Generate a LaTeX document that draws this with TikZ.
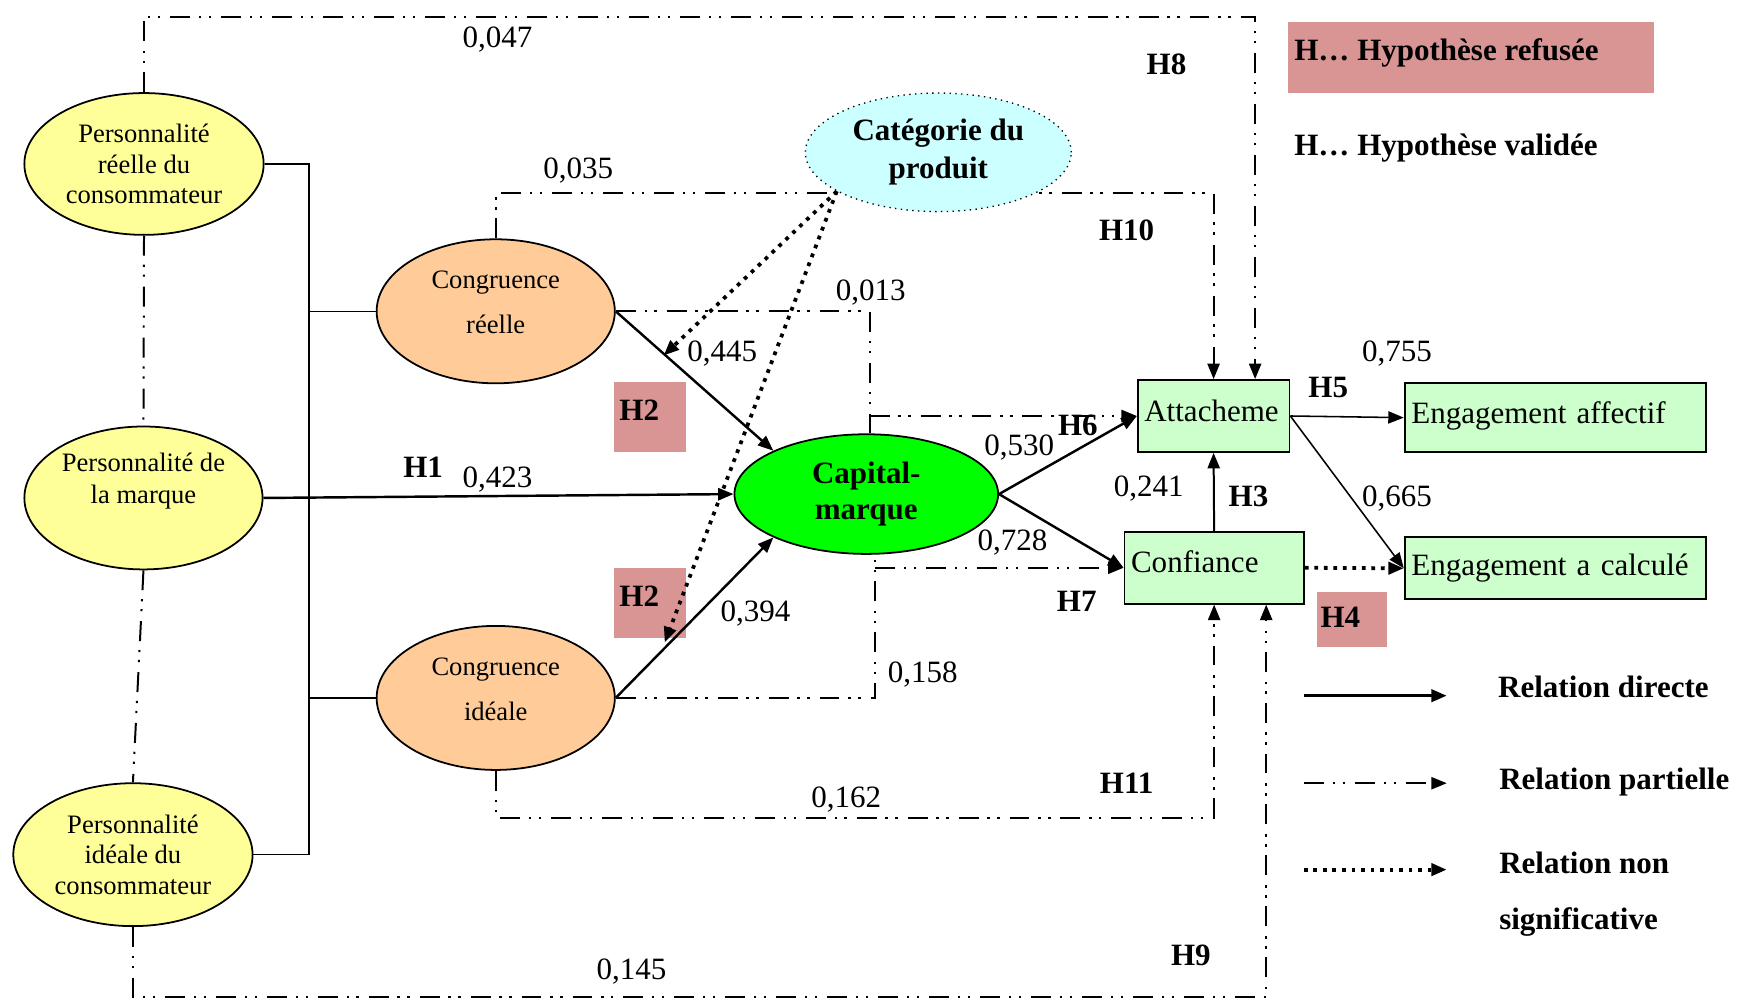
\documentclass[tikz,border=0pt]{standalone}
\usepackage{fontspec}
\setmainfont{Liberation Serif}
\usetikzlibrary{shapes.geometric,arrows.meta,backgrounds}
\definecolor{jaune}{HTML}{FFFF99}
\definecolor{peche}{HTML}{FFCC99}
\definecolor{ciel}{HTML}{CCFFFF}
\definecolor{vertvif}{HTML}{00FF00}
\definecolor{vertpale}{HTML}{CCFFCC}
\definecolor{rose}{HTML}{D99594}
\begin{document}
\begin{tikzpicture}[x=0.5pt,y=-0.5pt,
    every node/.style={font=\fontsize{14}{16.5}\selectfont,inner sep=1pt},
    perso/.style={ellipse,draw,line width=0.8pt,fill=jaune,inner sep=0pt,align=center,
      font=\fontsize{12}{13.75}\selectfont},
    congr/.style={ellipse,draw,line width=0.8pt,fill=peche,inner sep=0pt,
      minimum width=107.5pt,minimum height=65pt},
    boite/.style={draw,fill=vertpale,line width=0.8pt,inner xsep=3pt,inner ysep=0pt,align=left},
    pointe/.style={-{Triangle[length=7pt,width=5.5pt]}},
    fin/.style={line width=0.7pt},
    directe/.style={line width=1.1pt,pointe},
    partielle/.style={line width=0.9pt,dash pattern=on 9pt off 4pt on 1pt off 3.5pt on 1pt off 4.5pt},
    nonsig/.style={line width=1.7pt,dash pattern=on 1.7pt off 2.6pt,pointe},
    coef/.style={yshift=-1pt},
    hyp/.style={font=\bfseries\fontsize{14}{16.5}\selectfont}]
  \useasboundingbox (0,0) rectangle (1568,902);

  \node[perso,minimum width=108pt,minimum height=64pt] (P1) at (130,148)
    {Personnalité\\réelle du\\consommateur};
  \node[perso,minimum width=107.5pt,minimum height=64.5pt] (P2) at (129.5,449.5) {};
  \node[align=center,font=\fontsize{12}{14.5}\selectfont] (P2t) at (129.5,434)
    {Personnalité de\\la marque};
  \node[perso,minimum width=108pt,minimum height=64.5pt] (P3) at (120,771.5)
    {Personnalité\\idéale du\\consommateur};

  \node[congr] (CR) at (447.5,281) {};
  \node[align=center,font=\fontsize{12}{20.5}\selectfont] (CRt) at (447.5,273) {Congruence\\réelle};
  \node[congr] (CI) at (447.5,630) {};
  \node[align=center,font=\fontsize{12}{20.5}\selectfont] (CIt) at (447.5,622) {Congruence\\idéale};

  \node[ellipse,draw,dotted,line width=0.6pt,fill=ciel,inner sep=0pt,minimum width=120pt,
    minimum height=53.5pt,align=center,font=\bfseries\fontsize{14}{17}\selectfont]
    (Cat) at (847,137.5) {Catégorie du\\produit};
  \node[ellipse,draw,line width=0.8pt,fill=vertvif,inner sep=0pt,minimum width=119pt,
    minimum height=54pt,align=center,font=\bfseries\fontsize{14}{16.5}\selectfont]
    (Cap) at (782,446) {Capital-\\marque};

  \node[boite,text width=62.5pt,minimum height=32.5pt,text depth=5pt] (Att) at (1095.5,375.5) {Attacheme};
  \node[boite,text width=75pt,minimum height=32.5pt,text depth=6pt] (Conf) at (1096,512.5) {Confiance};
  \node[boite,text width=130pt,minimum height=31pt,text depth=5pt] (EA) at (1404,377) {Engagement affectif};
  \node[boite,text width=130pt,minimum height=28pt] (EC) at (1404,513) {Engagement a calculé};

  \fill[rose] (554,345) rectangle (619,408);
  \fill[rose] (554,513) rectangle (619,576);
  \fill[rose] (1189,534) rectangle (1252,584);
  \fill[rose] (1163,20) rectangle (1493,84);

  \coordinate (busA) at (279,148);
  \coordinate (busB) at (279,771.5);
  \draw[fin] (P1.east) -- (busA) -- (busB) -- (P3.east);
  \draw[fin] (busA |- CR.west) -- (CR.west);
  \draw[fin] (busA |- CI.west) -- (CI.west);

  \draw[directe] (P2.east) -- (Cap.west);
  \draw[directe] (CR.east) -- (Cap.155);
  \draw[directe] (CI.east) -- (Cap.205);
  \draw[directe] (Cap.east) -- (Att.west);
  \draw[directe] (Cap.east) -- (Conf.west);
  \draw[directe,line width=0.9pt] (Conf.north) -- (Att.south);
  \draw[fin,pointe] (Att.east) -- (EA.west);
  \draw[fin,pointe] (Att.east) -- (EC.west);
  \draw[nonsig] (Conf.east) -- (EC.west);

  \coordinate (cibleA) at (599,321);
  \coordinate (cibleB) at (600,580);
  \draw[nonsig] (Cat.201) -- (cibleA);
  \draw[nonsig] (Cat.201) -- (cibleB);

  \draw[partielle] (P1.south) -- (P2.north);
  \draw[partielle] (P2.south) -- (P3.north);

  \coordinate (h8) at (1133,15);
  \draw[partielle,pointe] (P1.north) |- (h8) -- (h8 |- Att.north);
  \coordinate (h9) at (1143,900);
  \draw[partielle,pointe] (P3.south) |- (h9) -- (h9 |- Conf.south);
  \coordinate (h10) at (1095.5,174);
  \begin{scope}[on background layer]
    \draw[partielle,pointe] (CR.north) |- (h10) -- (Att.north);
  \end{scope}
  \coordinate (h11) at (1096,738);
  \draw[partielle,pointe] (CI.south) |- (h11) -- (Conf.south);

  \coordinate (c13) at (785,281);
  \draw[partielle] (CR.east) -- (c13) -- (c13 |- Cap.north);
  \draw[partielle,pointe] (c13 |- Att.west) -- (Att.west);
  \coordinate (c158) at (790,630);
  \draw[partielle] (CI.east) -- (c158) -- (c158 |- Cap.south);
  \draw[partielle,pointe] (c158 |- Conf.west) -- (Conf.west);

  \node[coef] (k047) at (449,34) {0,047};
  \node[hyp] (kH8) at (1053,58) {H8};
  \node[coef] (k035) at (522,152) {0,035};
  \node[hyp] (kH10) at (1017,208) {H10};
  \node[coef] (k013) at (786,262) {0,013};
  \node[coef] (k445) at (652,317) {0,445};
  \node[hyp] (kH2a) at (577,370) {H2};
  \node[hyp] (kH1) at (382,422) {H1};
  \node[coef] (k423) at (449,431) {0,423};
  \node[coef] (k530) at (920,402) {0,530};
  \node[hyp] (kH6) at (973,384) {H6};
  \node[coef] (k241) at (1037,439) {0,241};
  \node[hyp] (kH3) at (1127,448) {H3};
  \node[hyp] (kH5) at (1199,350) {H5};
  \node[coef] (k755) at (1261,317) {0,755};
  \node[coef] (k665) at (1261,448) {0,665};
  \node[coef] (k728) at (914,488) {0,728};
  \node[hyp] (kH7) at (972,543) {H7};
  \node[hyp] (kH2b) at (577,538) {H2};
  \node[coef] (k394) at (682,552) {0,394};
  \node[hyp] (kH4) at (1210,557) {H4};
  \node[coef] (k158) at (833,607) {0,158};
  \node[hyp] (kH11) at (1017,707) {H11};
  \node[coef] (k162) at (764,720) {0,162};
  \node[hyp] (kH9) at (1075,862) {H9};
  \node[coef] (k145) at (570,875) {0,145};

  \node[hyp,anchor=west] (legR) at (1166,48) {H… Hypothèse refusée};
  \node[hyp,anchor=west] (legV) at (1166,134) {H… Hypothèse validée};

  \coordinate (ld1) at (1177,628);
  \coordinate (ld2) at (1306,628);
  \draw[directe,line width=1.6pt] (ld1) -- (ld2);
  \node[hyp,anchor=west] (legD) at (1350,620) {Relation directe};
  \coordinate (lp1) at (1177,707);
  \coordinate (lp2) at (1306,707);
  \draw[partielle,pointe] (lp1) -- (lp2);
  \node[hyp,anchor=west] (legP) at (1351,706) {Relation partielle};
  \coordinate (ln1) at (1177,785);
  \coordinate (ln2) at (1306,785);
  \draw[nonsig] (ln1) -- (ln2);
  \node[hyp,anchor=west,align=left,font=\bfseries\fontsize{14}{25}\selectfont] (legN) at (1351,807)
    {Relation non\\significative};
\end{tikzpicture}
\end{document}
